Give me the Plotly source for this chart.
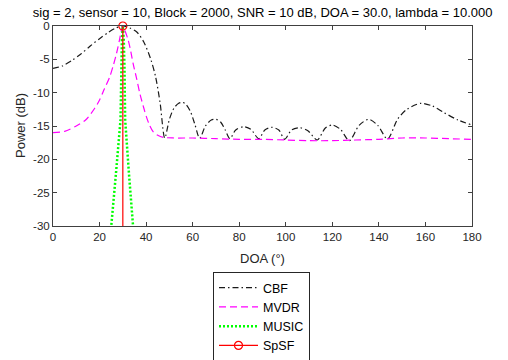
import plotly.graph_objects as go

# ---- data ----
cbf_doa = [0, 4, 8, 12, 16, 20, 24, 27, 30, 33, 36, 39, 42, 44, 46, 48,
           50, 52, 54, 55.5, 57, 59, 61, 63, 65.5, 68, 70, 72, 74, 76,
           78.5, 82, 85, 88.4, 91, 94, 97, 99.5, 102.5, 106, 109.5, 113.5,
           117, 120, 123.5, 127.3, 131.5, 135.6, 139.5, 143.7, 148, 152, 158,
           163, 168, 174, 180]
cbf_db = [-6.35, -6.0, -5.2, -4.2, -3.0, -1.9, -0.9, -0.3, 0.0, -0.3, -0.9, -2.4, -5.0, -7.5, -11.5, -16.8,
          -14.0, -12.3, -11.6, -11.45, -11.7, -12.8, -14.8, -16.85, -15.0, -14.1, -14.0, -14.4, -15.6, -16.9,
          -15.6, -15.1, -15.5, -16.9, -15.6, -15.2, -15.6, -17.0, -15.6, -15.25, -15.7, -17.1,
          -15.3, -14.85, -15.5, -17.2, -14.9, -14.0, -14.9, -16.95, -14.0, -12.5, -11.6,
          -12.0, -13.0, -14.1, -14.85]

mvdr_doa = [0, 5, 10, 14, 18, 20, 22, 24.4, 26, 27.3, 28.5, 29.4, 30, 30.8, 32.3, 33.4,
            34.4, 36, 37.3, 39, 40.1, 41.5, 43, 45, 47.3, 52, 60, 70, 80, 90, 100,
            110, 120, 130, 140, 150, 160, 170, 180]
mvdr_db = [-16.0, -15.8, -15.0, -14.1, -12.3, -11.1, -9.5, -7.6, -5.8, -4.1, -2.2, -0.6, 0.0, -0.6, -2.1, -3.8,
           -5.6, -8.0, -10.1, -12.3, -13.6, -14.9, -15.85, -16.4, -16.7, -16.8, -16.8, -16.9, -17.0, -17.0, -17.1,
           -17.2, -17.2, -17.1, -17.0, -16.8, -16.8, -16.9, -17.0]

music_doa = [24.0, 25.1, 27.0, 29.0, 29.3, 29.6, 30.0, 30.4, 30.7, 31.0, 32.6, 34.4, 35.5]
music_db = [-34.0, -30.0, -22.3, -14.1, -6.0, -2.0, 0.0, -2.0, -6.0, -14.1, -22.0, -30.0, -35.0]

spsf_doa = [30, 30]
spsf_db = [0, -60]

title_text = "sig = 2, sensor = 10, Block = 2000, SNR = 10 dB, DOA = 30.0, lambda = 10.000"
x_label = "DOA (°)"
y_label = "Power (dB)"
x_ticks = [0, 20, 40, 60, 80, 100, 120, 140, 160, 180]
y_ticks = [0, -5, -10, -15, -20, -25, -30]

FONT = "Liberation Sans, Arial, Helvetica, sans-serif"
TXT = "#262626"

fig = go.Figure()
fig.add_trace(go.Scatter(x=cbf_doa, y=cbf_db, mode="lines", name="CBF",
                         line=dict(color="#1a1a1a", width=1.2, dash="6px,3px,1.5px,3px",
                                   shape="spline", smoothing=0.8)))
fig.add_trace(go.Scatter(x=mvdr_doa, y=mvdr_db, mode="lines", name="MVDR",
                         line=dict(color="#ff00ff", width=1.2, dash="7px,4px",
                                   shape="spline", smoothing=0.8)))
fig.add_trace(go.Scatter(x=music_doa, y=music_db, mode="lines", name="MUSIC",
                         line=dict(color="#00ff00", width=2.5, dash="2px,2px")))
fig.add_trace(go.Scatter(x=spsf_doa, y=spsf_db, mode="lines+markers", name="SpSF",
                         line=dict(color="#ff0000", width=1.2),
                         marker=dict(symbol="circle-open", size=8,
                                     color=["#ff0000", "rgba(0,0,0,0)"],
                                     line=dict(width=1.2)),
                         cliponaxis=False))

axis_common = dict(showline=True, linecolor="#404040", linewidth=1, mirror="ticks",
                   ticks="inside", ticklen=4, tickcolor="#404040", showgrid=False,
                   zeroline=False, automargin=False,
                   tickfont=dict(family=FONT, size=11.5, color=TXT))

fig.update_xaxes(range=[0, 180], tickvals=x_ticks, ticktext=[str(v) for v in x_ticks],
                 **axis_common)
fig.update_yaxes(range=[-30, 0], tickvals=y_ticks, ticktext=[str(v) for v in y_ticks],
                 **axis_common)

# axis titles as annotations for precise placement
fig.add_annotation(text=x_label, xref="paper", yref="paper", x=0.5, y=(226 - 258) / 200,
                   xanchor="center", yanchor="middle", showarrow=False,
                   font=dict(family=FONT, size=13, color=TXT))
fig.add_annotation(text=y_label, xref="paper", yref="paper", x=(20 - 53) / 419, y=0.5,
                   xanchor="center", yanchor="middle", showarrow=False, textangle=-90,
                   font=dict(family=FONT, size=13, color=TXT))

fig.update_layout(
    width=508, height=360,
    margin=dict(l=53, r=36, t=26, b=134, autoexpand=False),
    paper_bgcolor="white", plot_bgcolor="white",
    title=dict(text=title_text, x=0.517, xref="container", xanchor="center",
               y=1 - 12 / 360, yref="container", yanchor="middle",
               font=dict(family=FONT, size=13, color="#000000")),
    legend=dict(x=(213 - 53) / 419, y=(226 - 272) / 200,
                xanchor="left", yanchor="top",
                bordercolor="#262626", borderwidth=1, bgcolor="white",
                font=dict(family=FONT, size=12.5, color="#000000"),
                tracegroupgap=0, itemwidth=39),
    showlegend=True,
)

fig.write_html("out.html")
